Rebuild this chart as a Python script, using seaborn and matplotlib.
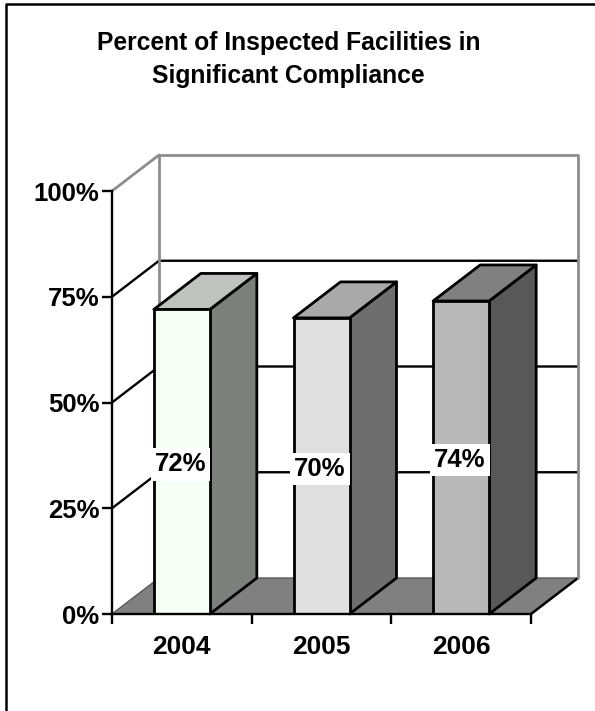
import numpy as np
import pandas as pd
import matplotlib
matplotlib.use('Agg')
import matplotlib.pyplot as plt
from matplotlib.patches import Polygon
import seaborn as sns

years = ['2004', '2005', '2006']
percent = [72, 70, 74]
labels = ['72%', '70%', '74%']
yticks = [0, 25, 50, 75, 100]
ytick_labels = ['0%', '25%', '50%', '75%', '100%']
front_colors = ['#F6FFF6', '#E0E0E0', '#B9B9B9']
side_colors = ['#7C807C', '#6E6E6E', '#585858']
top_colors = ['#BEC3BD', '#A9A9A9', '#808080']

W, H = 595, 711
# depth of the fake 3d box, in data units
DX = 47 / (419 / 3)
DY = 36 / 423 * 100
bar_w = 56 / (419 / 3)

sns.set_style('white')
plt.rcParams['font.family'] = ['Liberation Sans', 'DejaVu Sans']
plt.rcParams['text.color'] = 'black'
plt.rcParams['xtick.color'] = 'black'
plt.rcParams['ytick.color'] = 'black'

fig = plt.figure(figsize=(W / 100, H / 100), dpi=100)
ax = fig.add_axes([112 / W, 1 - 614 / H, 419 / W, 423 / H])

df = pd.DataFrame({'year': years, 'percent': percent})
sns.barplot(data=df, x='year', y='percent', hue='year', palette=front_colors,
            width=bar_w, legend=False, saturation=1, edgecolor='black',
            linewidth=2, ax=ax, zorder=5)
ax.set_xlim(-0.5, 2.5)
ax.set_ylim(0, 100)
ax.set_xlabel('')
ax.set_ylabel('')

left, right = -0.5, 2.5

# floor
ax.add_patch(Polygon([(left, 0), (right, 0), (right + DX, DY), (left + DX, DY)],
                     closed=True, fc='#808080', ec='none', clip_on=False, zorder=1))
ax.plot([left, left + DX, right + DX], [0, DY, DY], color='#5A5A5A', lw=1,
        clip_on=False, zorder=1.5)
ax.plot([right, right + DX], [0, DY], color='black', lw=1.8, clip_on=False, zorder=2)
# grid on the back and side walls
for t in yticks[1:-1]:
    ax.plot([left, left + DX, right + DX], [t, t + DY, t + DY], color='black', lw=1.7,
            clip_on=False, zorder=2, solid_joinstyle='miter')
# grey wall outline
ax.plot([left + DX, left + DX, right + DX, right + DX], [DY, 100 + DY, 100 + DY, DY],
        color='#8C8C8C', lw=2, clip_on=False, zorder=2)
ax.plot([left, left + DX], [100, 100 + DY], color='#8C8C8C', lw=2, clip_on=False, zorder=2)

# side and top of each bar
for i, v in enumerate(percent):
    x0, x1 = i - bar_w / 2, i + bar_w / 2
    ax.add_patch(Polygon([(x1, 0), (x1 + DX, DY), (x1 + DX, v + DY), (x1, v)], closed=True,
                         fc=side_colors[i], ec='black', lw=2, clip_on=False, zorder=4,
                         joinstyle='round'))
    ax.add_patch(Polygon([(x0, v), (x1, v), (x1 + DX, v + DY), (x0 + DX, v + DY)], closed=True,
                         fc=top_colors[i], ec='black', lw=2, clip_on=False, zorder=4,
                         joinstyle='round'))
    ax.annotate(labels[i], (i, v / 2), xytext=(-1, -2), textcoords='offset points',
                ha='center', va='center', fontsize=18.5, fontweight='bold', zorder=6,
                bbox=dict(fc='white', ec='none', pad=3))

for s in ['top', 'right']:
    ax.spines[s].set_visible(False)
for s in ['left', 'bottom']:
    ax.spines[s].set_visible(True)
    ax.spines[s].set_color('black')
    ax.spines[s].set_linewidth(1.7)
    ax.spines[s].set_zorder(6)

ax.set_yticks(yticks)
ax.set_yticklabels(ytick_labels, fontsize=18.5, fontweight='bold')
ax.set_xticks(np.arange(-0.5, 3, 1))
ax.set_xticklabels([])
ax.set_xticks(np.arange(3), labels=years, minor=True, fontsize=19, fontweight='bold')
ax.tick_params(axis='y', which='major', left=True, length=7, width=1.7, pad=2)
ax.tick_params(axis='x', which='major', bottom=True, length=7, width=1.7)
ax.tick_params(axis='x', which='minor', bottom=False, pad=13)

fig.text(288.5 / W, 1 - 59.5 / H, 'Percent of Inspected Facilities in\nSignificant Compliance',
         ha='center', va='center', fontsize=17.7, fontweight='bold', linespacing=1.45)

# outer frame, only the top and left edges show
fig.add_artist(plt.Line2D([6 / W, 6 / W, 1], [0, 1 - 4 / H, 1 - 4 / H], color='black', lw=1.8,
                          transform=fig.transFigure))

fig.savefig('out.png', dpi=100)
